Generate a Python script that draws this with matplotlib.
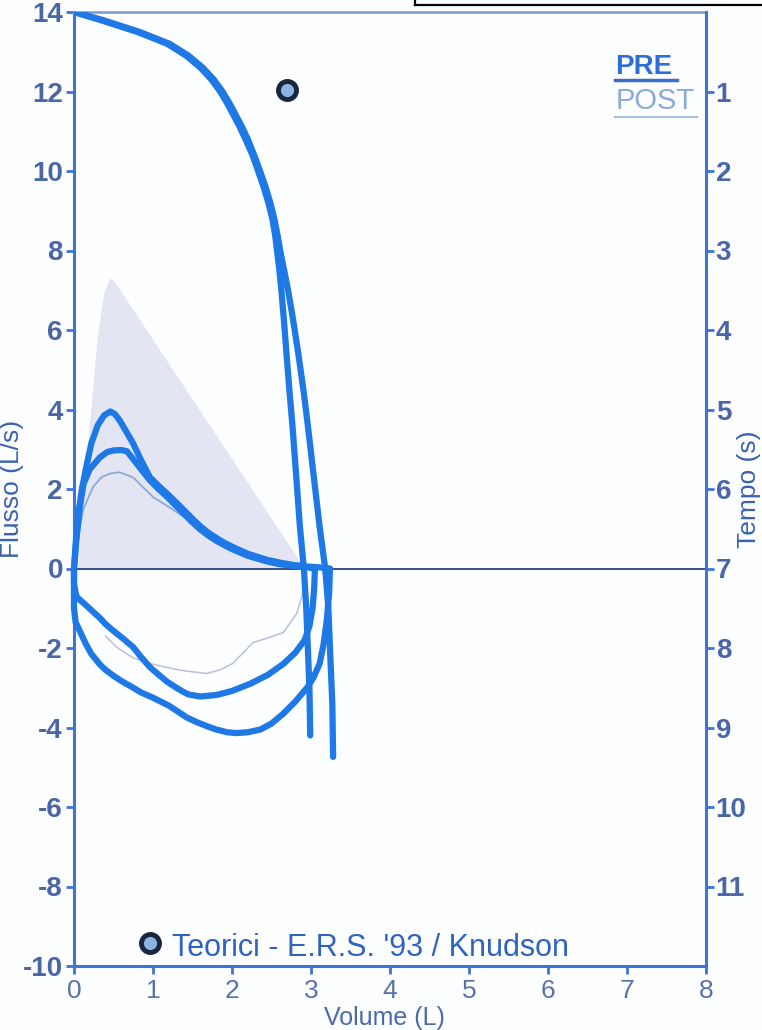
import matplotlib
matplotlib.use('Agg')
import matplotlib.pyplot as plt
from matplotlib.lines import Line2D

# ---------------- data ----------------
# Volume-time curves (plotted against the right "Tempo" axis)
vt1_time = [0, 0.1, 0.25, 0.4, 0.55, 0.7, 0.85, 1.0, 1.15, 1.3, 1.45, 1.6, 1.8, 2.0,
            2.2, 2.4, 2.6, 2.8, 3.0, 3.25, 3.5, 3.85, 4.3, 4.8, 5.2, 5.8, 6.48, 7.0,
            7.5, 8.0, 8.5, 9.1]
vt1_vol = [0, 0.33, 0.8, 1.18, 1.42, 1.6, 1.74, 1.85, 1.94, 2.02, 2.1, 2.17, 2.26, 2.33,
           2.4, 2.46, 2.51, 2.545, 2.57, 2.6, 2.625, 2.655, 2.69, 2.73, 2.765, 2.81,
           2.86, 2.91, 2.94, 2.96, 2.98, 2.99]
vt2_time = [0, 0.1, 0.25, 0.4, 0.55, 0.7, 0.85, 1.0, 1.15, 1.3, 1.45, 1.6, 1.8, 2.0,
            2.2, 2.4, 2.6, 2.8, 3.0, 3.25, 3.5, 3.85, 4.3, 4.8, 5.2, 5.8, 6.48, 7.0,
            7.5, 8.0, 8.7, 9.37]
vt2_vol = [0, 0.36, 0.83, 1.21, 1.45, 1.63, 1.77, 1.88, 1.97, 2.05, 2.13, 2.2, 2.28,
           2.355, 2.425, 2.485, 2.535, 2.575, 2.61, 2.66, 2.71, 2.77, 2.84, 2.91, 2.96,
           3.03, 3.11, 3.18, 3.22, 3.24, 3.27, 3.28]

# Flow-volume loops (PRE)
exp_a_vol = [0, 0.02, 0.05, 0.1, 0.16, 0.22, 0.3, 0.38, 0.46, 0.52, 0.58, 0.66, 0.75,
             0.85, 0.96, 1.07, 1.18, 1.3, 1.4, 1.5, 1.6, 1.7, 1.8, 1.9, 2.01, 2.2, 2.44,
             2.6, 2.77, 2.95, 3.1, 3.24]
exp_a_flow = [0, 0.6, 1.3, 2.0, 2.6, 3.15, 3.6, 3.85, 3.95, 3.88, 3.72, 3.45, 3.14,
              2.72, 2.3, 2.08, 1.88, 1.65, 1.45, 1.25, 1.06, 0.9, 0.77, 0.65, 0.54, 0.37,
              0.22, 0.15, 0.09, 0.05, 0.03, 0.0]
insp_a_vol = [3.24, 3.23, 3.2, 3.16, 3.11, 3.03, 2.95, 2.8, 2.65, 2.5, 2.36, 2.2, 2.05,
              1.94, 1.8, 1.7, 1.56, 1.43, 1.3, 1.2, 1.0, 0.85, 0.75, 0.6, 0.5, 0.4, 0.33,
              0.22, 0.15, 0.08, 0.02, 0, 0]
insp_a_flow = [0, -0.6, -1.3, -1.9, -2.39, -2.75, -3.0, -3.35, -3.65, -3.9, -4.05,
               -4.12, -4.14, -4.12, -4.05, -3.98, -3.87, -3.75, -3.58, -3.45, -3.25,
               -3.12, -3.0, -2.83, -2.7, -2.55, -2.42, -2.15, -1.9, -1.6, -1.35, -1.0, 0]

exp_b_vol = [0, 0.03, 0.07, 0.12, 0.2, 0.33, 0.42, 0.5, 0.6, 0.67, 0.75, 0.84, 0.96,
             1.07, 1.18, 1.3, 1.4, 1.5, 1.6, 1.7, 1.8, 1.9, 2.0, 2.2, 2.44, 2.6, 2.8,
             2.95, 3.05]
exp_b_flow = [0, 0.7, 1.5, 2.13, 2.5, 2.8, 2.93, 2.97, 2.98, 2.95, 2.75, 2.52, 2.22,
              2.0, 1.8, 1.56, 1.36, 1.16, 0.98, 0.83, 0.7, 0.59, 0.49, 0.32, 0.18, 0.11,
              0.06, 0.03, 0.0]
insp_b_vol = [3.05, 3.04, 3.02, 2.98, 2.92, 2.8, 2.65, 2.45, 2.23, 2.0, 1.81, 1.6, 1.45,
              1.38, 1.28, 1.18, 1.07, 0.96, 0.85, 0.75, 0.62, 0.5, 0.4, 0.33, 0.22, 0.15,
              0.08, 0.03, 0, 0]
insp_b_flow = [0, -0.5, -1.0, -1.45, -1.8, -2.12, -2.4, -2.68, -2.9, -3.08, -3.18,
               -3.22, -3.17, -3.1, -2.98, -2.85, -2.67, -2.48, -2.23, -1.98, -1.76,
               -1.57, -1.4, -1.25, -1.05, -0.92, -0.8, -0.7, -0.4, 0]

# POST (thin)
post_exp_vol = [0.05, 0.12, 0.24, 0.35, 0.46, 0.58, 0.75, 0.87, 1.0, 1.2, 1.5, 2.0,
                2.5, 2.9]
post_exp_flow = [0.8, 1.5, 2.05, 2.3, 2.39, 2.42, 2.29, 2.05, 1.8, 1.55, 1.15, 0.5,
                 0.18, 0.05]
post_insp_vol = [0.4, 0.54, 0.75, 0.96, 1.2, 1.38, 1.68, 1.85, 2.01, 2.15, 2.27, 2.45,
                 2.65, 2.82, 2.9]
post_insp_flow = [-1.7, -1.98, -2.25, -2.39, -2.5, -2.57, -2.64, -2.55, -2.39, -2.1,
                  -1.86, -1.75, -1.61, -1.13, -0.6]

# Predicted (theoretical) envelope
pred_vol = [0.05, 0.12, 0.22, 0.3, 0.38, 0.46, 0.52, 2.92]
pred_flow = [0, 2.0, 4.0, 5.8, 6.9, 7.3, 7.2, 0]
pef_pred = (2.7, 12.05)

x_ticks = [0, 1, 2, 3, 4, 5, 6, 7, 8]
y_ticks = [-10, -8, -6, -4, -2, 0, 2, 4, 6, 8, 10, 12, 14]
y_tick_labels = ['-10', '-8', '-6', '-4', '-2', '0', '2', '4', '6', '8', '10', '12', '14']
t_ticks = [1, 2, 3, 4, 5, 6, 7, 8, 9, 10, 11]

# ---------------- style ----------------
plt.rcParams['font.family'] = ['Liberation Sans', 'DejaVu Sans']
BG = '#fdfeff'
AXC = '#3f74d4'
TICKC = '#4a66a6'
LINE = '#1e78e6'
POSTC = '#8aaad8'
LW = 4.5

fig = plt.figure(figsize=(7.62, 10.30), dpi=100, facecolor=BG)
ax = fig.add_axes([74 / 762, 1 - 966 / 1030, 632 / 762, 954 / 1030])
ax.set_facecolor(BG)
ax.set_xlim(0, 8)
ax.set_ylim(-10, 14)
ax2 = ax.twinx()
ax2.set_ylim(12, 0)

for s in ['left', 'bottom']:
    ax.spines[s].set_color(AXC)
    ax.spines[s].set_linewidth(2.2)
ax.spines['top'].set_color('#7e98cc')
ax.spines['top'].set_linewidth(1.8)
ax.spines['right'].set_visible(False)
for s in ['left', 'bottom', 'top']:
    ax2.spines[s].set_visible(False)
ax2.spines['right'].set_color(AXC)
ax2.spines['right'].set_linewidth(2.2)

ax.set_yticks(y_ticks, labels=y_tick_labels, fontweight='bold')
ax.set_xticks(x_ticks, labels=[str(v) for v in x_ticks])
ax.tick_params(axis='y', direction='out', length=6, width=2, color=AXC,
               labelsize=20, labelcolor=TICKC, pad=2)
ax.tick_params(axis='x', direction='out', length=6, width=2, color=AXC,
               labelsize=19, labelcolor='#5a72aa', pad=3)
ax2.set_yticks(t_ticks, labels=[str(v) for v in t_ticks], fontweight='bold')
ax2.tick_params(axis='y', direction='out', length=6, width=2, color=AXC,
                labelsize=20, labelcolor=TICKC, pad=1)

ax.set_ylabel('Flusso (L/s)', fontsize=19, color='#3a62b0')
ax.yaxis.set_label_coords(-(74 - 24) / 632, 0.5)
ax2.set_ylabel('Tempo (s)', fontsize=19, color='#3a62b0')
ax2.yaxis.set_label_coords((737 - 74) / 632, 0.5)
ax.set_xlabel('Volume (L)', fontsize=18, color='#4a6ab0')
ax.xaxis.set_label_coords((384 - 74) / 632, -(1006 - 966) / 954)

# predicted envelope
ax.fill(pred_vol, pred_flow, color='#e3e6f2', zorder=1, lw=0)
ax.axhline(0, color='#26407a', lw=1.3, zorder=2)

# flow-volume loops
ax.plot(post_exp_vol, post_exp_flow, color=POSTC, lw=1.3, zorder=3)
ax.plot(post_insp_vol, post_insp_flow, color='#b9bfd8', lw=1.1, zorder=3)
for xs, ys in [(exp_a_vol + insp_a_vol, exp_a_flow + insp_a_flow),
               (exp_b_vol + insp_b_vol, exp_b_flow + insp_b_flow)]:
    ax.plot(xs, ys, color=LINE, lw=LW, zorder=4, solid_joinstyle='round',
            solid_capstyle='round', clip_on=False)

# volume-time curves
for xs, ts in [(vt1_vol, vt1_time), (vt2_vol, vt2_time)]:
    ax2.plot(xs, ts, color=LINE, lw=LW, solid_capstyle='round',
             solid_joinstyle='round', zorder=4)

# predicted PEF marker + note
mk = dict(marker='o', ms=13, mfc='#8db3e0', mec='#1b2540', mew=3.5, ls='none',
          zorder=6, clip_on=False)
ax.plot([pef_pred[0]], [pef_pred[1]], **mk)
ax.plot([0.96], [-9.43], **mk)
ax.text(1.24, -9.74, "Teorici - E.R.S. '93 / Knudson", fontsize=22,
        color='#2f63c0', va='baseline', ha='left', zorder=6)

# PRE / POST legend
ax.text(6.85, 12.45, 'PRE', fontsize=20, fontweight='bold', color='#2d6fd6',
        va='baseline', ha='left', zorder=6)
ax.plot([6.85, 7.63], [12.28, 12.28], color='#3a6fc8', lw=2.5, zorder=6)
ax.text(6.85, 11.57, 'POST', fontsize=21, color=POSTC, va='baseline', ha='left',
        zorder=6)
ax.plot([6.85, 7.89], [11.35, 11.35], color='#a8c0e0', lw=1.5, zorder=6)

# frame of neighbouring box (top right)
fig.add_artist(Line2D([415 / 762, 1], [1 - 5 / 1030, 1 - 5 / 1030],
                      transform=fig.transFigure, color='black', lw=1.6))
fig.add_artist(Line2D([415 / 762, 415 / 762], [1 - 5 / 1030, 1],
                      transform=fig.transFigure, color='black', lw=1.6))

fig.savefig('out.png', dpi=100, facecolor=BG)
